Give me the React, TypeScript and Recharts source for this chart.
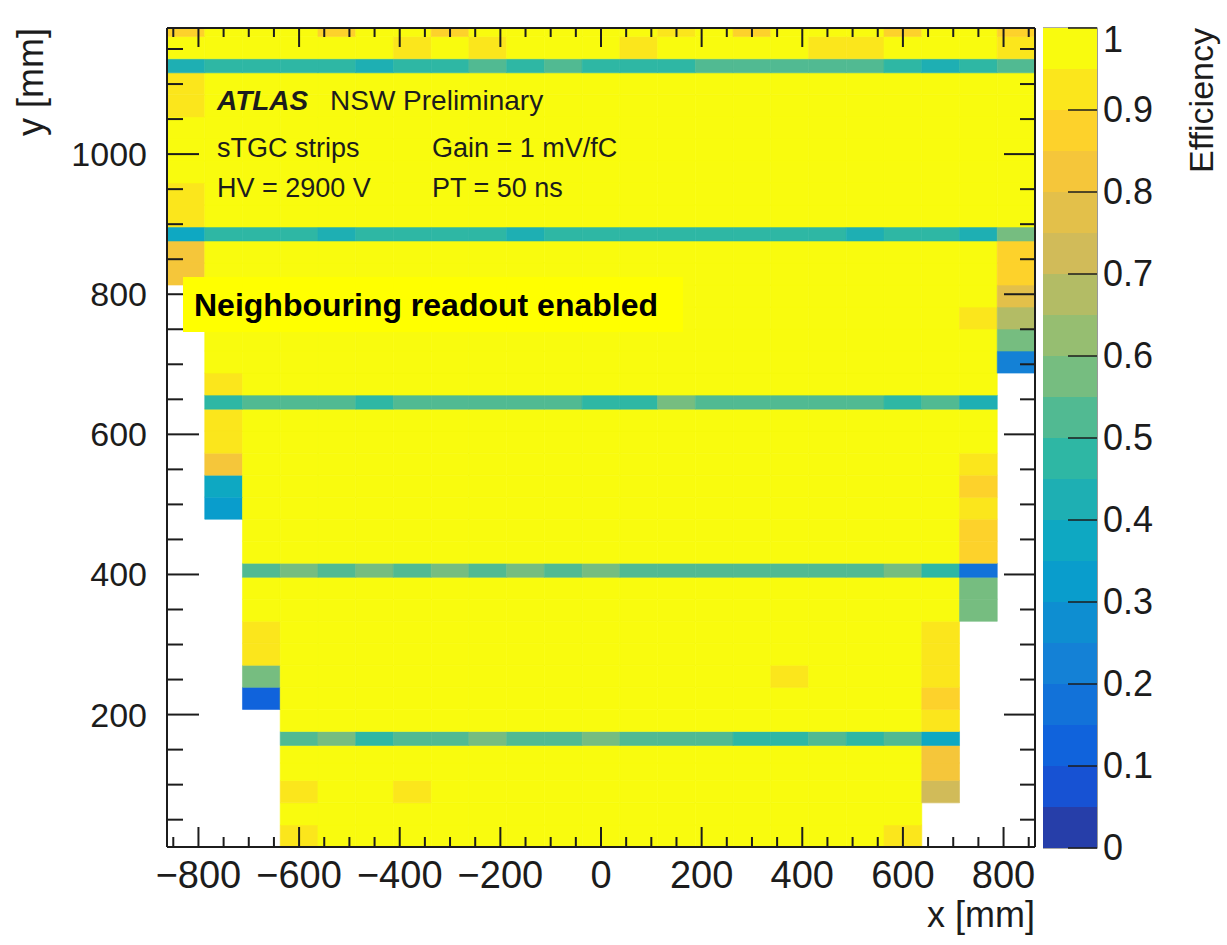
import React from 'react';
import { ComposedChart, BarChart, Bar, Scatter, XAxis, YAxis, ReferenceArea, ReferenceDot } from 'recharts';

const FONT = "'Liberation Sans', Arial, Helvetica, sans-serif";
const INK = '#1c1c1c';

// x bin edges [mm] (23 bins of 75 mm)
const xEdges = [-862.5, -787.5, -712.5, -637.5, -562.5, -487.5, -412.5, -337.5, -262.5, -187.5, -112.5, -37.5,
  37.5, 112.5, 187.5, 262.5, 337.5, 412.5, 487.5, 562.5, 637.5, 712.5, 787.5, 862.5];

// y bin edges [mm] (rows of ~31 mm, narrow rows at the board gaps)
const yEdges = [11, 42.5, 74, 106, 131, 156, 176, 207.4, 238.9, 270.3, 301.7, 333.1, 364.6, 396, 416, 447.4,
  478.9, 510.3, 541.7, 573.1, 604.6, 636, 656, 687.4, 718.9, 750.3, 781.7, 813.1, 844.6, 876, 896, 927.4,
  958.9, 990.3, 1021.7, 1053.1, 1084.6, 1116, 1136, 1168, 1180];

const _ = null;
// efficiency per cell, rows from bottom (y) to top, columns from left (x) to right
const effRows: (number | null)[][] = [
  [_, _, _, .93, .98, .98, .98, .98, .98, .98, .98, .98, .98, .98, .98, .98, .98, .98, .98, .93, _, _, _],
  [_, _, _, .98, .98, .98, .98, .98, .98, .98, .98, .98, .98, .98, .98, .98, .98, .98, .98, .98, _, _, _],
  [_, _, _, .93, .98, .98, .93, .98, .98, .98, .98, .98, .98, .98, .98, .98, .98, .98, .98, .98, .73, _, _],
  [_, _, _, .98, .98, .98, .98, .98, .98, .98, .98, .98, .98, .98, .98, .98, .98, .98, .98, .98, .83, _, _],
  [_, _, _, .98, .98, .98, .98, .98, .98, .98, .98, .98, .98, .98, .98, .98, .98, .98, .98, .98, .83, _, _],
  [_, _, _, .53, .58, .48, .53, .53, .58, .53, .53, .58, .53, .53, .53, .48, .48, .53, .48, .53, .38, _, _],
  [_, _, _, .98, .98, .98, .98, .98, .98, .98, .98, .98, .98, .98, .98, .98, .98, .98, .98, .98, .93, _, _],
  [_, _, .13, .98, .98, .98, .98, .98, .98, .98, .98, .98, .98, .98, .98, .98, .98, .98, .98, .98, .88, _, _],
  [_, _, .58, .98, .98, .98, .98, .98, .98, .98, .98, .98, .98, .98, .98, .98, .93, .98, .98, .98, .93, _, _],
  [_, _, .93, .98, .98, .98, .98, .98, .98, .98, .98, .98, .98, .98, .98, .98, .98, .98, .98, .98, .93, _, _],
  [_, _, .93, .98, .98, .98, .98, .98, .98, .98, .98, .98, .98, .98, .98, .98, .98, .98, .98, .98, .93, _, _],
  [_, _, .98, .98, .98, .98, .98, .98, .98, .98, .98, .98, .98, .98, .98, .98, .98, .98, .98, .98, .98, .58, _],
  [_, _, .98, .98, .98, .98, .98, .98, .98, .98, .98, .98, .98, .98, .98, .98, .98, .98, .98, .98, .98, .58, _],
  [_, _, .53, .58, .53, .58, .53, .58, .53, .58, .53, .58, .53, .53, .53, .53, .53, .53, .53, .58, .48, .18, _],
  [_, _, .98, .98, .98, .98, .98, .98, .98, .98, .98, .98, .98, .98, .98, .98, .98, .98, .98, .98, .98, .88, _],
  [_, _, .98, .98, .98, .98, .98, .98, .98, .98, .98, .98, .98, .98, .98, .98, .98, .98, .98, .98, .98, .88, _],
  [_, .33, .98, .98, .98, .98, .98, .98, .98, .98, .98, .98, .98, .98, .98, .98, .98, .98, .98, .98, .98, .93, _],
  [_, .38, .98, .98, .98, .98, .98, .98, .98, .98, .98, .98, .98, .98, .98, .98, .98, .98, .98, .98, .98, .88, _],
  [_, .83, .98, .98, .98, .98, .98, .98, .98, .98, .98, .98, .98, .98, .98, .98, .98, .98, .98, .98, .98, .93, _],
  [_, .93, .98, .98, .98, .98, .98, .98, .98, .98, .98, .98, .98, .98, .98, .98, .98, .98, .98, .98, .98, .98, _],
  [_, .93, .98, .98, .98, .98, .98, .98, .98, .98, .98, .98, .98, .98, .98, .98, .98, .98, .98, .98, .98, .98, _],
  [_, .48, .53, .53, .53, .48, .53, .53, .53, .53, .53, .48, .48, .58, .53, .53, .53, .53, .53, .48, .53, .43, _],
  [_, .93, .98, .98, .98, .98, .98, .98, .98, .98, .98, .98, .98, .98, .98, .98, .98, .98, .98, .98, .98, .98, _],
  [_, .98, .98, .98, .98, .98, .98, .98, .98, .98, .98, .98, .98, .98, .98, .98, .98, .98, .98, .98, .98, .98, .23],
  [_, .98, .98, .98, .98, .98, .98, .98, .98, .98, .98, .98, .98, .98, .98, .98, .98, .98, .98, .98, .98, .98, .58],
  [_, .98, .98, .98, .98, .98, .98, .98, .98, .98, .98, .98, .98, .98, .98, .98, .98, .98, .98, .98, .98, .93, .68],
  [_, .98, .98, .98, .98, .98, .98, .98, .98, .98, .98, .98, .98, .98, .98, .98, .98, .98, .98, .98, .98, .98, .78],
  [.83, .98, .98, .98, .98, .98, .98, .98, .98, .98, .98, .98, .98, .98, .98, .98, .98, .98, .98, .98, .98, .98, .88],
  [.83, .98, .98, .98, .98, .98, .98, .98, .98, .98, .98, .98, .98, .98, .98, .98, .98, .98, .98, .98, .98, .98, .88],
  [.38, .48, .48, .48, .43, .48, .48, .48, .48, .43, .48, .48, .48, .48, .48, .48, .48, .48, .43, .48, .48, .43, .58],
  [.93, .98, .98, .98, .98, .98, .98, .98, .98, .98, .98, .98, .98, .98, .98, .98, .98, .98, .98, .98, .98, .98, .98],
  [.93, .98, .98, .98, .98, .98, .98, .98, .98, .98, .98, .98, .98, .98, .98, .98, .98, .98, .98, .98, .98, .98, .98],
  [.98, .98, .98, .98, .98, .98, .98, .98, .98, .98, .98, .98, .98, .98, .98, .98, .98, .98, .98, .98, .98, .98, .98],
  [.98, .98, .98, .98, .98, .98, .98, .98, .98, .98, .98, .98, .98, .98, .98, .98, .98, .98, .98, .98, .98, .98, .98],
  [.98, .98, .98, .98, .98, .98, .98, .98, .98, .98, .98, .98, .98, .98, .98, .98, .98, .98, .98, .98, .98, .98, .98],
  [.93, .98, .98, .98, .98, .98, .98, .98, .98, .98, .98, .98, .98, .98, .98, .98, .98, .98, .98, .98, .98, .98, .98],
  [.93, .98, .98, .98, .98, .98, .98, .98, .98, .98, .98, .98, .98, .98, .98, .98, .98, .98, .98, .98, .98, .98, .98],
  [.43, .48, .48, .48, .48, .43, .48, .48, .53, .48, .53, .48, .48, .48, .53, .53, .53, .53, .53, .48, .43, .48, .53],
  [.98, .98, .98, .98, .98, .98, .93, .98, .93, .98, .98, .98, .93, .98, .98, .98, .98, .93, .93, .98, .98, .98, .93],
  [.88, .98, .98, .98, .88, .98, .98, .88, .98, .98, .98, .98, .98, .93, .98, .88, .98, .98, .98, .88, .98, .98, .88],
];

const xTicks = [-850, -800, -750, -700, -650, -600, -550, -500, -450, -400, -350, -300, -250, -200, -150, -100, -50,
  0, 50, 100, 150, 200, 250, 300, 350, 400, 450, 500, 550, 600, 650, 700, 750, 800, 850];
const xMajor = [-800, -600, -400, -200, 0, 200, 400, 600, 800];
const yTicks = [50, 100, 150, 200, 250, 300, 350, 400, 450, 500, 550, 600, 650, 700, 750, 800, 850, 900, 950,
  1000, 1050, 1100, 1150];
const yMajor = [200, 400, 600, 800, 1000];

// colour scale levels (20 contours) and colour-bar tick labels
const zLevels = [0, 0.05, 0.1, 0.15, 0.2, 0.25, 0.3, 0.35, 0.4, 0.45, 0.5, 0.55, 0.6, 0.65, 0.7, 0.75, 0.8, 0.85, 0.9, 0.95];
const zTicks = [0, 0.1, 0.2, 0.3, 0.4, 0.5, 0.6, 0.7, 0.8, 0.9, 1];

const palette = ['#263EA9', '#1752D3', '#1063DC', '#1272D9', '#1481D6', '#0E8ED1', '#099DCC', '#0EA8C2',
  '#1EAFB3', '#2EB7A4', '#51BA92', '#76BD80', '#96BE71', '#B3BC65', '#D1BB59', '#E3C04A', '#F5C63A',
  '#FDD22B', '#FBE61C', '#F9FB0E'];

const colorOf = (v: number) => palette[Math.min(19, Math.max(0, Math.floor(v * 20 + 1e-9)))];
const fmt = (v: number) => (v < 0 ? '\u2212' + Math.abs(v) : String(v));

const BottomLabel = (p: any) => {
  const v = p.payload.value;
  if (!xMajor.includes(v)) return <g />;
  return <text x={p.x} y={p.y + 41} textAnchor="middle" fontSize={38} fill={INK} fontFamily={FONT}>{fmt(v)}</text>;
};
const LeftLabel = (p: any) => {
  const v = p.payload.value;
  if (!yMajor.includes(v)) return <g />;
  return <text x={p.x - 20} y={p.y + 12} textAnchor="end" fontSize={34} fill={INK} fontFamily={FONT}>{fmt(v)}</text>;
};
const ZTick = (p: any) => {
  const v = p.payload.value;
  return (
    <g>
      <line x1={p.x} x2={p.x - 29} y1={p.y} y2={p.y} stroke={INK} strokeWidth={1.5} />
      <text x={p.x + 6} y={p.y + (v === 1 ? 24 : 12)} fontSize={36} fill={INK} fontFamily={FONT}>{String(v)}</text>
    </g>
  );
};
const NoShape = () => <g />;
// tick mark drawn from the point the library places at the axis value
const mark = (dx: number, dy: number) => (p: any) => (
  <line x1={p.cx} y1={p.cy} x2={p.cx + dx} y2={p.cy + dy} stroke={INK} strokeWidth={2} />
);

const cells: { key: string; x1: number; x2: number; y1: number; y2: number; fill: string }[] = [];
const centers: { x: number; y: number }[] = [];
effRows.forEach((row, r) => {
  row.forEach((v, c) => {
    if (v == null) return;
    cells.push({ key: `c${r}_${c}`, x1: xEdges[c], x2: xEdges[c + 1], y1: yEdges[r], y2: yEdges[r + 1], fill: colorOf(v) });
    centers.push({ x: (xEdges[c] + xEdges[c + 1]) / 2, y: (yEdges[r] + yEdges[r + 1]) / 2 });
  });
});

const zRow: Record<string, number | string> = { name: 'z' };
zLevels.forEach((lo, i) => {
  zRow[`l${i}`] = (i + 1 < zLevels.length ? zLevels[i + 1] : 1) - lo;
});

const txt = { fontFamily: FONT, fill: INK } as const;
const XDOM: [number, number] = [-862.5, 862.5];
const YDOM: [number, number] = [11, 1180];
const frame = { stroke: INK, strokeWidth: 2 };

export default function App() {
  return (
    <div style={{ position: 'absolute', left: 0, top: 0, width: 1227, height: 945, background: '#fff' }}>
      <div style={{ position: 'absolute', left: 0, top: 0 }}>
        <ComposedChart id="heatmap" width={1227} height={945} data={centers} margin={{ top: 0, right: 0, bottom: 0, left: 0 }}>
          <XAxis xAxisId="x" dataKey="x" type="number" orientation="bottom" domain={XDOM} allowDataOverflow
            ticks={xTicks} interval={0} height={98} tickSize={0} tickMargin={0} tickLine={false}
            axisLine={frame} tick={BottomLabel} />
          <YAxis yAxisId="y" dataKey="y" type="number" orientation="left" domain={YDOM} allowDataOverflow
            ticks={yTicks} interval={0} width={167} tickSize={0} tickMargin={0} tickLine={false}
            axisLine={frame} tick={LeftLabel} />
          <XAxis xAxisId="xt" dataKey="x" type="number" orientation="top" domain={XDOM} allowDataOverflow
            height={28} tick={NoShape} tickLine={false} axisLine={frame} />
          <YAxis yAxisId="yr" dataKey="y" type="number" orientation="right" domain={YDOM} allowDataOverflow
            width={192} tick={NoShape} tickLine={false} axisLine={frame} />
          {cells.map((c) => (
            <ReferenceArea key={c.key} xAxisId="x" yAxisId="y" x1={c.x1} x2={c.x2} y1={c.y1} y2={c.y2}
              fill={c.fill} fillOpacity={1} stroke={c.fill} strokeWidth={0.6} ifOverflow="visible" />
          ))}
          <Scatter xAxisId="x" yAxisId="y" data={centers} dataKey="y" shape={NoShape} isAnimationActive={false} />
          <Scatter xAxisId="xt" yAxisId="yr" data={centers} dataKey="y" shape={NoShape} isAnimationActive={false} />
          {xTicks.map((v) => (
            <ReferenceDot key={`b${v}`} xAxisId="x" yAxisId="y" x={v} y={YDOM[0]} ifOverflow="visible"
              shape={mark(0, xMajor.includes(v) ? -20 : -10)} />
          ))}
          {xTicks.map((v) => (
            <ReferenceDot key={`t${v}`} xAxisId="x" yAxisId="y" x={v} y={YDOM[1]} ifOverflow="visible"
              shape={mark(0, xMajor.includes(v) ? 19 : 9)} />
          ))}
          {yTicks.map((v) => (
            <ReferenceDot key={`l${v}`} xAxisId="x" yAxisId="y" x={XDOM[0]} y={v} ifOverflow="visible"
              shape={mark(yMajor.includes(v) ? 32 : 16, 0)} />
          ))}
          {yTicks.map((v) => (
            <ReferenceDot key={`r${v}`} xAxisId="x" yAxisId="y" x={XDOM[1]} y={v} ifOverflow="visible"
              shape={mark(yMajor.includes(v) ? -31 : -15, 0)} />
          ))}
        </ComposedChart>
      </div>
      <div style={{ position: 'absolute', left: 1043, top: 0 }}>
        <BarChart id="colorbar" width={184} height={945} data={[zRow]} barCategoryGap={0} barGap={0}
          margin={{ top: 28, right: 0, bottom: 97, left: 0 }}>
          <XAxis dataKey="name" hide />
          {zLevels.map((lo, i) => (
            <Bar key={i} dataKey={`l${i}`} stackId="z" fill={palette[i]} isAnimationActive={false} />
          ))}
          <ReferenceArea y1={0} y2={1} fill="none" stroke="#555" strokeWidth={1.2} ifOverflow="visible" />
          <YAxis type="number" orientation="right" domain={[0, 1]} ticks={zTicks} interval={0} width={130}
            tickSize={0} tickMargin={0} tickLine={false} axisLine={false} tick={ZTick} />
        </BarChart>
      </div>
      <svg width={1227} height={945} style={{ position: 'absolute', left: 0, top: 0, pointerEvents: 'none' }}>
        <text {...txt} fontSize={36} textAnchor="end" transform="translate(43, 28) rotate(-90)">y [mm]</text>
        <text {...txt} fontSize={36} textAnchor="end" x={1035} y={927}>x [mm]</text>
        <text {...txt} fontSize={34} textAnchor="end" transform="translate(1213, 28) rotate(-90)">Efficiency</text>
        <text {...txt} fontSize={28} x={217} y={110} fontWeight="bold" fontStyle="italic">ATLAS</text>
        <text {...txt} fontSize={28} x={330} y={110}>NSW Preliminary</text>
        <text {...txt} fontSize={27} x={217} y={157}>sTGC strips</text>
        <text {...txt} fontSize={27} x={432} y={157}>Gain = 1 mV/fC</text>
        <text {...txt} fontSize={27} x={217} y={197}>HV = 2900 V</text>
        <text {...txt} fontSize={27} x={432} y={197}>PT = 50 ns</text>
        <rect x={183} y={277} width={500} height={55} fill="#FFFF00" />
        <text {...txt} fill="#000" fontSize={32} fontWeight="bold" x={194} y={316}>Neighbouring readout enabled</text>
      </svg>
    </div>
  );
}
